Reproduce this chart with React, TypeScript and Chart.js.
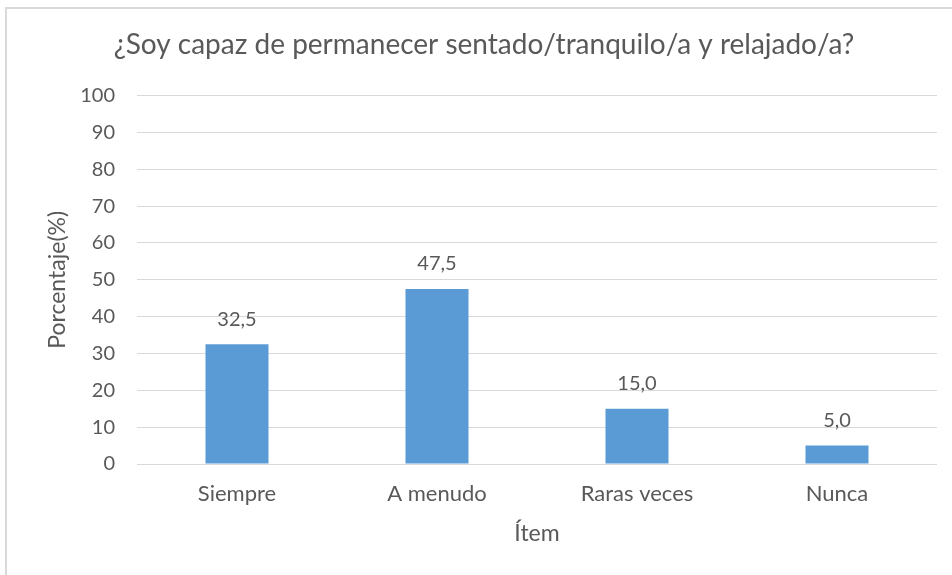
import React, { useEffect, useRef } from "react";
import { Chart, registerables } from "chart.js";

Chart.register(...registerables);

const categories = ["Siempre", "A menudo", "Raras veces", "Nunca"];
const values = [32.5, 47.5, 15.0, 5.0];
const yTicks = [0, 10, 20, 30, 40, 50, 60, 70, 80, 90, 100];
const titleText = "¿Soy capaz de permanecer sentado/tranquilo/a y relajado/a?";
const yTitle = "Porcentaje(%)";
const xTitle = "Ítem";

const FONT = "Lato, 'Open Sans', sans-serif";
const TEXT = "#595959";

const frame = {
  id: "frame",
  beforeDraw(chart: any) {
    const ctx = chart.ctx;
    ctx.save();
    ctx.fillStyle = "#ffffff";
    ctx.fillRect(0, 0, chart.width, chart.height);
    ctx.strokeStyle = "#d9d9d9";
    ctx.lineWidth = 2;
    ctx.strokeRect(6, 8, chart.width + 20, chart.height + 20);
    ctx.restore();
  },
};

const dataLabels = {
  id: "dataLabels",
  afterDatasetsDraw(chart: any) {
    const ctx = chart.ctx;
    const meta = chart.getDatasetMeta(0);
    ctx.save();
    ctx.fillStyle = TEXT;
    ctx.font = `20px ${FONT}`;
    ctx.textAlign = "center";
    ctx.textBaseline = "middle";
    meta.data.forEach((bar: any, i: number) => {
      const v = chart.data.datasets[0].data[i] as number;
      ctx.fillText(v.toFixed(1).replace(".", ","), bar.x, bar.y - 25);
    });
    ctx.restore();
  },
};

export default function App() {
  const ref = useRef<HTMLCanvasElement>(null);
  useEffect(() => {
    if (!ref.current) return;
    const chart = new Chart(ref.current, {
      type: "bar",
      data: {
        labels: categories,
        datasets: [
          {
            data: values,
            backgroundColor: "#5b9bd5",
            borderWidth: 0,
            barPercentage: 0.63,
            categoryPercentage: 0.5,
          },
        ],
      },
      options: {
        responsive: false,
        animation: false,
        layout: { padding: { left: 31, right: 15, top: 0, bottom: 0 } },
        plugins: {
          legend: { display: false },
          tooltip: { enabled: false },
          title: {
            display: true,
            text: titleText,
            color: TEXT,
            font: { family: FONT, size: 28, weight: "normal", lineHeight: 1.2 },
            padding: { top: 28, bottom: 34 },
          },
        },
        scales: {
          x: {
            grid: { display: false, drawTicks: false },
            border: { display: false },
            ticks: { color: TEXT, font: { family: FONT, size: 22 }, padding: 17 },
            title: {
              display: true,
              text: xTitle,
              color: TEXT,
              font: { family: FONT, size: 23, lineHeight: 1.2 },
              padding: { top: 0, bottom: 28 },
            },
            afterFit: (s: any) => {
              s.height = 111;
            },
          },
          y: {
            min: 0,
            max: 100,
            afterBuildTicks: (s: any) => {
              s.ticks = yTicks.map((v) => ({ value: v }));
            },
            grid: { color: "#d9d9d9", lineWidth: 1, drawTicks: false },
            border: { display: false },
            ticks: { color: TEXT, font: { family: FONT, size: 20 }, padding: 22 },
            title: {
              display: true,
              text: yTitle,
              color: TEXT,
              font: { family: FONT, size: 23, lineHeight: 1.2 },
              padding: { top: 13, bottom: 0 },
            },
            afterFit: (s: any) => {
              s.width = 106;
            },
          },
        },
      },
      plugins: [frame, dataLabels],
    });
    return () => chart.destroy();
  }, []);
  return (
    <div style={{ position: "fixed", left: 0, top: 0, width: 952, height: 575 }}>
      <canvas ref={ref} width={952} height={575} style={{ width: 952, height: 575 }} />
    </div>
  );
}
